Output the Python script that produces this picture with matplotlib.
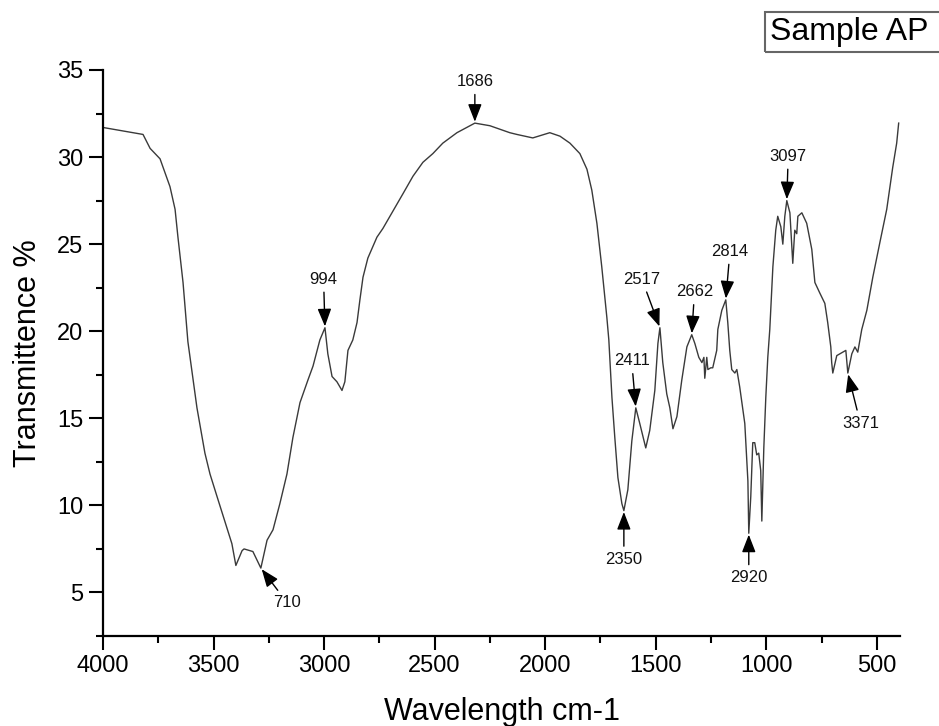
import numpy as np
import matplotlib
matplotlib.use('Agg')
import matplotlib.pyplot as plt
from matplotlib.patches import Rectangle
from matplotlib.ticker import MultipleLocator

plt.rcParams['font.family'] = ['Liberation Sans', 'DejaVu Sans']

# FTIR spectrum (wavenumber, transmittance)
wavenumber = [4000, 3864, 3819, 3787, 3742, 3697, 3674, 3661, 3638, 3616,
              3575, 3539, 3516, 3484, 3439, 3417, 3399, 3371, 3362, 3322,
              3286, 3258, 3231, 3200, 3168, 3141, 3109, 3073, 3050, 3019,
              2996, 2983, 2964, 2942, 2919, 2906, 2892, 2870, 2851, 2838,
              2824, 2802, 2761, 2734, 2693, 2643, 2598, 2553, 2508, 2463,
              2399, 2318, 2250, 2160, 2128, 2056, 1979, 1933, 1888, 1843,
              1811, 1789, 1766, 1744, 1721, 1712, 1698, 1685, 1671, 1653,
              1644, 1626, 1608, 1590, 1572, 1545, 1527, 1504, 1490, 1481,
              1468, 1450, 1436, 1422, 1404, 1382, 1359, 1337, 1323, 1305,
              1291, 1282, 1278, 1269, 1264, 1251, 1242, 1224, 1219, 1201,
              1183, 1174, 1165, 1156, 1142, 1133, 1120, 1097, 1083, 1079,
              1070, 1061, 1052, 1043, 1034, 1025, 1020, 1011, 1002, 993,
              984, 970, 957, 948, 934, 925, 916, 907, 893, 880,
              871, 862, 857, 839, 817, 794, 780, 758, 735, 722,
              708, 704, 699, 681, 667, 654, 640, 631, 613, 599,
              586, 568, 545, 518, 486, 455, 428, 410, 401]
transmittance = [31.7, 31.4, 31.3, 30.5, 29.9, 28.3, 27.0, 25.4, 22.8, 19.4,
                 15.6, 13.0, 11.8, 10.5, 8.7, 7.8, 6.55, 7.4, 7.5, 7.35,
                 6.4, 8.0, 8.6, 10.1, 11.8, 13.9, 15.9, 17.2, 18.0, 19.5,
                 20.2, 18.7, 17.4, 17.1, 16.6, 17.1, 18.9, 19.5, 20.5, 21.8,
                 23.1, 24.2, 25.4, 25.9, 26.8, 27.9, 28.9, 29.7, 30.2, 30.8,
                 31.4, 31.95, 31.8, 31.4, 31.3, 31.1, 31.4, 31.2, 30.8, 30.2,
                 29.3, 28.1, 26.2, 23.7, 20.8, 19.5, 16.2, 13.9, 11.6, 10.1,
                 9.7, 10.9, 13.7, 15.6, 14.7, 13.3, 14.3, 16.6, 19.3, 20.2,
                 18.2, 16.4, 15.6, 14.4, 15.1, 17.2, 19.1, 19.8, 19.3, 18.5,
                 18.2, 18.5, 17.3, 18.5, 17.8, 17.9, 17.9, 18.9, 20.1, 21.2,
                 21.8, 20.5, 18.9, 17.8, 17.6, 17.8, 16.8, 14.7, 11.4, 8.4,
                 10.5, 13.6, 13.6, 12.9, 13.0, 12.0, 9.1, 13.3, 16.2, 18.5,
                 20.1, 23.7, 25.8, 26.6, 26.0, 25.0, 26.6, 27.5, 26.8, 23.9,
                 25.8, 25.6, 26.6, 26.8, 26.2, 24.7, 22.8, 22.2, 21.6, 20.5,
                 19.1, 18.2, 17.6, 18.6, 18.7, 18.8, 18.9, 17.6, 18.7, 19.1,
                 18.8, 20.1, 21.2, 23.1, 25.1, 27.0, 29.4, 30.8, 31.95]

# peak labels (text as printed on the figure) and where their arrows point
peak_labels = ['1686', '994', '710', '2350', '2411', '2517', '2662',
               '2814', '2920', '3097', '3371']
peak_wn = [2318, 2996, 3286, 1644, 1590, 1481, 1337, 1183, 1079, 907, 631]
label_offsets = [(0, 30), (-1, 35), (19, -25), (0, -35), (-3, 34), (-13, 35),
                 (2, 31), (3, 35), (0, -32), (1, 32), (9, -36)]

fig = plt.figure(figsize=(9.39, 7.26), dpi=100)
ax = fig.add_axes([103/939, 1-636/726, (900-103)/939, (636-70)/726])

ax.plot(wavenumber, transmittance, color='#3a3a3a', lw=1.0)

wn_sorted = np.array(wavenumber[::-1])
t_sorted = np.array(transmittance[::-1])
for lab, wn, (dx, dy) in zip(peak_labels, peak_wn, label_offsets):
    ty = np.interp(wn, wn_sorted, t_sorted)
    ax.annotate(lab, xy=(wn, ty), xytext=(dx, dy), textcoords='offset points',
                ha='center', va='center', fontsize=12, color='#111111',
                arrowprops=dict(arrowstyle='-|>,head_length=0.9,head_width=0.35',
                                color='black', lw=1.0, shrinkA=2, shrinkB=1,
                                mutation_scale=12))

ax.set_xlim(4000, 395)
ax.set_ylim(2.5, 35)
ax.xaxis.set_major_locator(MultipleLocator(500))
ax.xaxis.set_minor_locator(MultipleLocator(250))
ax.yaxis.set_major_locator(MultipleLocator(5))
ax.yaxis.set_minor_locator(MultipleLocator(2.5))
ax.tick_params(which='major', direction='out', length=10, width=1.5,
               labelsize=17, pad=4)
ax.tick_params(which='minor', direction='out', length=5, width=1.5)
ax.set_yticks([5, 10, 15, 20, 25, 30, 35])

for side in ['top', 'right']:
    ax.spines[side].set_visible(False)
for side in ['left', 'bottom']:
    ax.spines[side].set_linewidth(1.6)

ax.set_xlabel('Wavelength cm-1', fontsize=22, labelpad=14)
ax.set_ylabel('Transmittence %', fontsize=22, labelpad=10)

# title box in the top-right corner, cut by the image edge
fig.add_artist(Rectangle((765/939, 1-52/726), 0.3, 40/726,
                         transform=fig.transFigure, fill=False,
                         edgecolor='#666666', lw=1.5))
fig.text(770/939, 1-32/726, 'Sample AP', fontsize=23, ha='left', va='center')

fig.savefig('out.png', dpi=100)
